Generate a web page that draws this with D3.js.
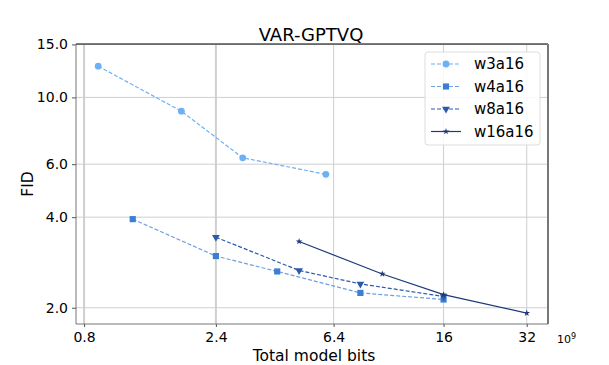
<!DOCTYPE html>
<html>
<head>
<meta charset="utf-8">
<script src="https://cdn.jsdelivr.net/npm/d3@7"></script>
<style>
  body { margin: 0; background: #fff; }
  text { font-family: "DejaVu Sans", sans-serif; fill: #000; }
</style>
</head>
<body>
<svg id="chart" width="609" height="365"></svg>
<script>
// datos (bits en unidades de 1e9)
const seriesNames = ["w3a16", "w4a16", "w8a16", "w16a16"];
const w3a16 = [[0.9, 12.7], [1.8, 9.0], [3.0, 6.3], [6.0, 5.55]];
const w4a16 = [[1.2, 3.94], [2.4, 2.97], [4.0, 2.64], [8.0, 2.24], [16, 2.13]];
const w8a16 = [[2.4, 3.43], [4.8, 2.66], [8.0, 2.40], [16, 2.18]];
const w16a16 = [[4.8, 3.32], [9.6, 2.59], [16, 2.21], [32, 1.92]];
const xTicks = [0.8, 2.4, 6.4, 16, 32];
const yTicks = [2.0, 4.0, 6.0, 10.0, 15.0];

const series = [
  { name: seriesNames[0], data: w3a16, line: "#6cb0f5", mark: "#6cb0f5", dash: "4,2", sym: d3.symbolCircle, size: 36 },
  { name: seriesNames[1], data: w4a16, line: "#6f9fe0", mark: "#3a7fd5", dash: "4,2", sym: d3.symbolSquare, size: 38 },
  { name: seriesNames[2], data: w8a16, line: "#2a5aa8", mark: "#2a5aa8", dash: "4,2", sym: d3.symbolTriangle, size: 26, rot: 180 },
  { name: seriesNames[3], data: w16a16, line: "#1f3a7a", mark: "#1f3a7a", dash: null, sym: d3.symbolStar, size: 14 }
];

const svg = d3.select("#chart");
const L = 76, R = 548, T = 44, B = 324;

const x = d3.scaleLog().domain([0.748, 38.2]).range([L, R]);
const y = d3.scaleLog().domain([1.766, 15.05]).range([B, T]);

// grid
const grid = svg.append("g");
grid.selectAll("line.gx").data(xTicks).enter().append("line")
  .attr("x1", d => x(d)).attr("x2", d => x(d)).attr("y1", T).attr("y2", B)
  .attr("stroke", "#cfcfcf").attr("stroke-width", d => d <= 2.4 ? 2 : 1);
grid.selectAll("line.gy").data(yTicks).enter().append("line")
  .attr("x1", L).attr("x2", R).attr("y1", d => y(d)).attr("y2", d => y(d))
  .attr("stroke", "#cfcfcf").attr("stroke-width", 1);

// spines
svg.append("line").attr("x1", L).attr("x2", R).attr("y1", T).attr("y2", T).attr("stroke", "#000").attr("stroke-width", 1.2);
svg.append("line").attr("x1", L).attr("x2", L).attr("y1", T).attr("y2", B).attr("stroke", "#777");
svg.append("line").attr("x1", R).attr("x2", R).attr("y1", T).attr("y2", B).attr("stroke", "#777").attr("stroke-width", 2);
svg.append("line").attr("x1", L).attr("x2", R).attr("y1", B).attr("y2", B).attr("stroke", "#777");

// ejes
const xAxis = svg.append("g").attr("transform", `translate(0,${B})`)
  .call(d3.axisBottom(x).tickValues(xTicks).tickFormat(d3.format(".1~f")).tickSize(3).tickPadding(5));
const yAxis = svg.append("g").attr("transform", `translate(${L},0)`)
  .call(d3.axisLeft(y).tickValues(yTicks).tickFormat(d3.format(".1f")).tickSize(4).tickPadding(4));
[xAxis, yAxis].forEach(a => {
  a.select(".domain").remove();
  a.selectAll(".tick line").attr("stroke", "#555");
  a.selectAll("text").attr("font-size", 14).style("font-family", "DejaVu Sans");
});

// títulos
svg.append("text").attr("x", 311).attr("y", 41).attr("text-anchor", "middle")
  .attr("font-size", 18).text("VAR-GPTVQ");
svg.append("text").attr("x", 314).attr("y", 361).attr("text-anchor", "middle")
  .attr("font-size", 15.5).text("Total model bits");
svg.append("text").attr("transform", "translate(33,184) rotate(-90)").attr("text-anchor", "middle")
  .attr("font-size", 15.5).text("FID");
const exp = svg.append("text").attr("x", 557).attr("y", 343).attr("font-size", 11);
exp.append("tspan").text("10");
exp.append("tspan").attr("dy", -4).attr("font-size", 8).text("9");

// series
const line = d3.line().x(d => x(d[0])).y(d => y(d[1]));
series.forEach(s => {
  svg.append("path").datum(s.data)
    .attr("d", line).attr("fill", "none")
    .attr("stroke", s.line).attr("stroke-width", 1.2)
    .attr("stroke-dasharray", s.dash);
  svg.selectAll(null).data(s.data).enter().append("path")
    .attr("d", d3.symbol().type(s.sym).size(s.size))
    .attr("transform", d => `translate(${x(d[0])},${y(d[1])}) rotate(${s.rot || 0})`)
    .attr("fill", s.mark);
});

// leyenda
const lg = svg.append("g").attr("transform", "translate(425,52)");
lg.append("rect").attr("width", 115).attr("height", 93).attr("rx", 3)
  .attr("fill", "#fff").attr("fill-opacity", 0.85).attr("stroke", "#ddd");
series.forEach((s, i) => {
  const yy = 12 + i * 22.5;
  lg.append("line").attr("x1", 6).attr("x2", 36).attr("y1", yy).attr("y2", yy)
    .attr("stroke", s.line).attr("stroke-width", 1.2).attr("stroke-dasharray", s.dash);
  lg.append("path").attr("d", d3.symbol().type(s.sym).size(s.size))
    .attr("transform", `translate(21,${yy}) rotate(${s.rot || 0})`).attr("fill", s.mark);
  lg.append("text").attr("x", 49).attr("y", yy + 5).attr("font-size", 15).text(s.name);
});
</script>
</body>
</html>
